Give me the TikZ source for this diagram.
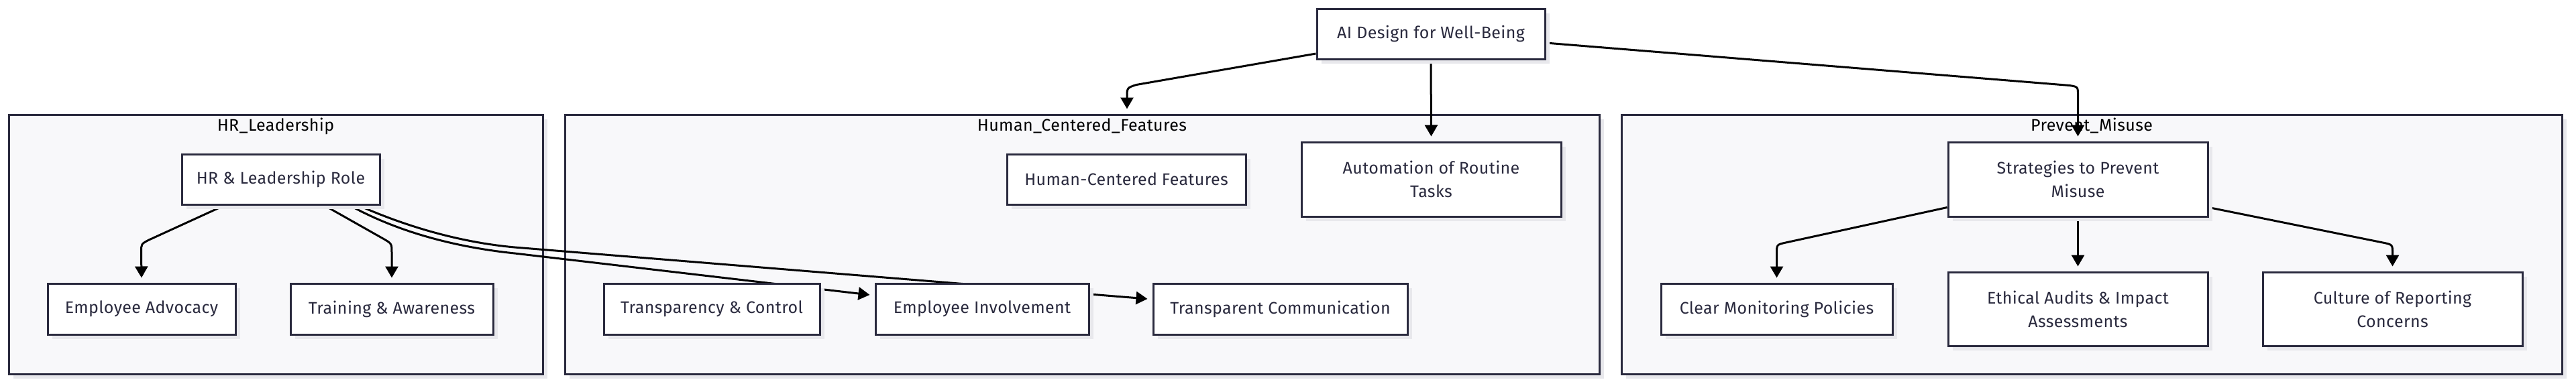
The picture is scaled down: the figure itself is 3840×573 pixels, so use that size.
\documentclass[tikz,border=0pt]{standalone}
\usepackage{fontspec}
\setmainfont[LetterSpace=1.5]{Fira Sans}
\usetikzlibrary{arrows.meta,calc,shadows}
\definecolor{ink}{HTML}{2A2A3E}
\definecolor{clfill}{HTML}{F8F8FA}
\definecolor{shade}{HTML}{E8E8EC}
\pgfdeclarelayer{bg}
\pgfdeclarelayer{edges}
\pgfsetlayers{bg,edges,main}
\begin{document}
\begin{tikzpicture}[x=0.5pt,y=-0.5pt,
  sz/.style 2 args={minimum width=#1*0.5pt,minimum height=#2*0.5pt},
  box/.style={draw=ink, line width=1.5pt, fill=white, text=ink, inner sep=0pt,
    align=center, font=\fontsize{12.5}{17.5}\selectfont,
    drop shadow={shadow xshift=3.5pt, shadow yshift=-3.5pt, fill=shade, opacity=1}},
  cluster/.style={draw=ink, line width=1.5pt, fill=clfill, inner sep=0pt,
    drop shadow={shadow xshift=3.5pt, shadow yshift=-3.5pt, fill=shade, opacity=1}},
  ctitle/.style={text=black, inner sep=0pt, font=\fontsize{12.5}{14}\selectfont},
  edge/.style={line width=1.5pt, black, -{Triangle[length=8.5pt,width=9.5pt]}},
]
\useasboundingbox (0,0) rectangle (3840,573);

\begin{pgfonlayer}{bg}
\node[cluster, sz={796}{387}] (hrc) at (411,364.5) {};
\node[cluster, sz={1542}{387}] (hcc) at (1613,364.5) {};
\node[cluster, sz={1402}{387}] (pmc) at (3118,364.5) {};
\node[ctitle] (hrt) at (411,188) {HR\_Leadership};
\node[ctitle] (hct) at (1613,188) {Human\_Centered\_Features};
\node[ctitle] (pmt) at (3118,188) {Prevent\_Misuse};
\end{pgfonlayer}

\node[box, sz={340}{75}] (ai) at (2133,50.5) {AI Design for Well-Being};
\node[box, sz={295}{75}] (hr) at (418.5,267.5) {HR \& Leadership Role};
\node[box, sz={280}{76}] (ea) at (211,461) {Employee Advocacy};
\node[box, sz={302}{76}] (tr) at (584,461) {Training \& Awareness};
\node[box, sz={356}{75}] (hcf) at (1679,267.5) {Human-Centered Features};
\node[box, sz={387}{111}] (auto) at (2133.5,267.5) {Automation of Routine\\Tasks};
\node[box, sz={322}{76}] (tc) at (1061,461) {Transparency \& Control};
\node[box, sz={318}{76}] (ei) at (1464,461) {Employee Involvement};
\node[box, sz={379}{76}] (tcom) at (1908.5,461) {Transparent Communication};
\node[box, sz={387}{111}] (str) at (3097.5,267.5) {Strategies to Prevent\\Misuse};
\node[box, sz={345}{76}] (cm) at (2648.5,461) {Clear Monitoring Policies};
\node[box, sz={387}{110}] (eth) at (3097.5,461) {Ethical Audits \& Impact\\Assessments};
\node[box, sz={387}{110}] (cul) at (3566.5,461) {Culture of Reporting\\Concerns};

\begin{pgfonlayer}{edges}
\draw[edge] ($(ai.west)+(0,29.5)$) -- (1694,126.5) .. controls (1680,131) .. (1680,145) -- ($(hcc.north)+(67,-7)$);
\draw[edge] (ai.south) -- ($(auto.north)+(0,-7)$);
\draw[edge] ($(ai.east)+(0,13.5)$) -- (3085,127.5) .. controls (3097.5,129.5) .. (3097.5,142) -- ($(str.north)+(0,-7)$);
\draw[edge] ($(hr.south west)+(65,0)$) -- (222,358) .. controls (210.5,364) .. (210.5,376) -- ($(ea.north)+(0,-7)$);
\draw[edge] ($(hr.south)+(65,0)$) -- (571,356) .. controls (584,363.5) .. (584,377) -- ($(tr.north)+(0,-7)$);
\draw[edge] ($(hr.south east)+(-46,0)$) .. controls (600,350) and (690,370) .. (767,378) -- ($(ei.west)+(-7,-21)$);
\draw[edge] ($(hr.south east)+(-33,0)$) .. controls (610,340) and (690,362) .. (767,369) -- ($(tcom.west)+(-7,-15)$);
\draw[edge] ($(str.west)+(0,42)$) -- (2662,362) .. controls (2648.5,365) .. (2648.5,378) -- ($(cm.north)+(0,-7)$);
\draw[edge] (str.south) -- ($(eth.north)+(0,-7)$);
\draw[edge] ($(str.east)+(0,42)$) -- (3552,362) .. controls (3566.5,365) .. (3566.5,378) -- ($(cul.north)+(0,-7)$);
\end{pgfonlayer}
\end{tikzpicture}
\end{document}
